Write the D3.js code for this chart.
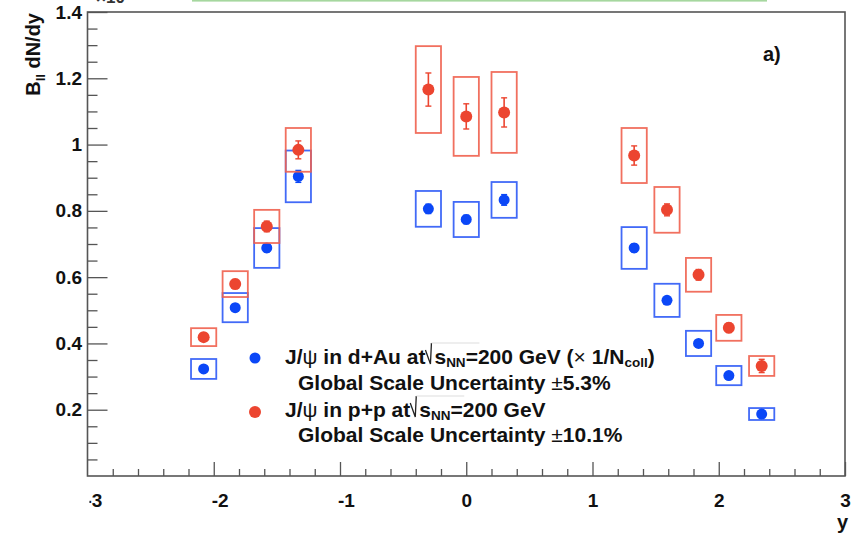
<!DOCTYPE html>
<html>
<head>
<meta charset="utf-8">
<script src="https://cdn.jsdelivr.net/npm/d3@7"></script>
<style>
  html, body { margin: 0; padding: 0; background: #fff; }
  svg { display: block; font-family: "Liberation Sans", Arial, Helvetica, sans-serif; font-weight: bold; }
</style>
</head>
<body>
<svg id="chart" width="856" height="536"></svg>
<script>
// ---------------- data ----------------
const rapidity   = [-2.08, -1.83, -1.58, -1.33, -0.30, 0.00, 0.30, 1.33, 1.59, 1.84, 2.08, 2.34];
const ppValues   = [0.419, 0.579, 0.753, 0.984, 1.166, 1.085, 1.097, 0.967, 0.803, 0.607, 0.447, 0.332];
const ppStat     = [0.012, 0.014, 0.016, 0.027, 0.050, 0.038, 0.044, 0.029, 0.018, 0.016, 0.014, 0.020];
const ppSys      = [0.027, 0.039, 0.050, 0.066, 0.131, 0.119, 0.122, 0.083, 0.069, 0.051, 0.039, 0.030];
const dAuValues  = [0.323, 0.508, 0.688, 0.904, 0.806, 0.774, 0.833, 0.688, 0.530, 0.400, 0.303, 0.187];
const dAuStat    = [0.008, 0.010, 0.012, 0.018, 0.014, 0.013, 0.016, 0.012, 0.010, 0.008, 0.008, 0.010];
const dAuSys     = [0.030, 0.044, 0.060, 0.078, 0.054, 0.053, 0.054, 0.063, 0.050, 0.038, 0.029, 0.018];
const binHalfWidth = 0.1;
const xTickValues = [-3, -2, -1, 0, 1, 2, 3];
const xTickLabels = ["-3", "-2", "-1", "0", "1", "2", "3"];
const yTickValues = [0.2, 0.4, 0.6, 0.8, 1.0, 1.2, 1.4];
const yTickLabels = ["0.2", "0.4", "0.6", "0.8", "1", "1.2", "1.4"];

// ---------------- setup ----------------
const svg = d3.select("#chart");
const x = d3.scaleLinear().domain([-3, 3]).range([87.5, 845]);
const y = d3.scaleLinear().domain([0, 1.4]).range([476, 12]);
const RED = "#ec4530", BLUE = "#0b47f7";
const RED_BOX = "#f0604e", BLUE_BOX = "#2d5af6";
const AX = "#555";

// green line at top (cropped figure remnant)
svg.append("rect").attr("x", 192).attr("y", 0).attr("width", 575).attr("height", 1.6).attr("fill", "#a6d79f");

// cropped exponent remnant
svg.append("text").attr("x", 96).attr("y", 3).attr("font-size", 17).attr("fill", "#333").text("\u00d710");

// ---------------- axes ----------------
const defs = svg.append("defs");
defs.append("clipPath").attr("id", "xlabClip").append("rect").attr("x", 89.5).attr("y", 0).attr("width", 767).attr("height", 536);

// x minor ticks
const xMinor = d3.range(-3, 3.0001, 0.2).map(v => +v.toFixed(2)).filter(v => Math.abs(v - Math.round(v)) > 1e-6);
const gxMinor = svg.append("g").attr("transform", "translate(0,476)")
  .call(d3.axisBottom(x).tickValues(xMinor).tickSizeInner(-7).tickSizeOuter(0).tickFormat(""));
gxMinor.select(".domain").remove();
gxMinor.selectAll("line").attr("stroke", AX).attr("stroke-width", 1.3);

// x major ticks (outer group clips the cropped "-3" label like the reference)
const gxOuter = svg.append("g").attr("clip-path", "url(#xlabClip)");
const gx = gxOuter.append("g").attr("transform", "translate(0,476)")
  .call(d3.axisBottom(x).tickValues(xTickValues).tickSizeInner(-14).tickSizeOuter(0).tickPadding(17.5)
    .tickFormat((d, i) => xTickLabels[i]));
gx.select(".domain").remove();
gx.selectAll("line").attr("stroke", AX).attr("stroke-width", 1.3);
gx.selectAll("text").attr("font-size", 19).attr("font-weight", "bold").attr("fill", "#111")
  .attr("font-family", "Liberation Sans, Arial, sans-serif")
  .attr("x", d => d < 0 ? 6 : 0);

// y minor ticks
const yMinor = d3.range(0.05, 1.4, 0.05).map(v => +v.toFixed(2)).filter(v => Math.abs(v * 5 - Math.round(v * 5)) > 1e-6);
const gyMinor = svg.append("g").attr("transform", "translate(87.5,0)")
  .call(d3.axisLeft(y).tickValues(yMinor).tickSizeInner(-10).tickSizeOuter(0).tickFormat(""));
gyMinor.select(".domain").remove();
gyMinor.selectAll("line").attr("stroke", AX).attr("stroke-width", 1.3);

// y major ticks
const gy = svg.append("g").attr("transform", "translate(87.5,0)")
  .call(d3.axisLeft(y).tickValues(yTickValues).tickSizeInner(-20).tickSizeOuter(0).tickPadding(5.5)
    .tickFormat((d, i) => yTickLabels[i]));
gy.select(".domain").remove();
gy.selectAll("line").attr("stroke", AX).attr("stroke-width", 1.3);
gy.selectAll("text").attr("font-size", 19).attr("font-weight", "bold").attr("fill", "#111")
  .attr("font-family", "Liberation Sans, Arial, sans-serif");

// frame
svg.append("rect").attr("x", x(-3)).attr("y", y(1.4))
  .attr("width", x(3) - x(-3)).attr("height", y(0) - y(1.4))
  .attr("fill", "none").attr("stroke", AX).attr("stroke-width", 1.6);

// axis titles
svg.append("text").attr("x", 848).attr("y", 529).attr("text-anchor", "end")
  .attr("font-size", 20).attr("fill", "#111").text("y");

const yt = svg.append("text").attr("transform", "translate(40,13) rotate(-90)")
  .attr("text-anchor", "end").attr("font-size", 20).attr("fill", "#111");
yt.append("tspan").text("B");
yt.append("tspan").attr("font-size", 13).attr("dy", 5).text("ll");
yt.append("tspan").attr("dy", -5).text(" dN/dy");

// panel label
svg.append("text").attr("x", 763).attr("y", 61).attr("font-size", 20).attr("fill", "#111").text("a)");

// ---------------- data marks ----------------
function drawBoxes(vals, sys, boxColor) {
  const g = svg.append("g");
  const idx = d3.range(vals.length);
  g.selectAll("rect.sys").data(idx).join("rect").attr("class", "sys")
    .attr("x", i => x(rapidity[i] - binHalfWidth))
    .attr("y", i => y(vals[i] + sys[i]))
    .attr("width", i => x(rapidity[i] + binHalfWidth) - x(rapidity[i] - binHalfWidth))
    .attr("height", i => y(vals[i] - sys[i]) - y(vals[i] + sys[i]))
    .attr("fill", "none").attr("stroke", boxColor).attr("stroke-width", 1.8).attr("stroke-opacity", 0.9);
  return g;
}
function drawPoints(g, vals, stat, color, r) {
  const idx = d3.range(vals.length);
  g.selectAll("line.err").data(idx).join("line").attr("class", "err")
    .attr("x1", i => x(rapidity[i])).attr("x2", i => x(rapidity[i]))
    .attr("y1", i => y(vals[i] + stat[i])).attr("y2", i => y(vals[i] - stat[i]))
    .attr("stroke", color).attr("stroke-width", 1.6);
  g.selectAll("line.capt").data(idx).join("line").attr("class", "capt")
    .attr("x1", i => x(rapidity[i]) - 3).attr("x2", i => x(rapidity[i]) + 3)
    .attr("y1", i => y(vals[i] + stat[i])).attr("y2", i => y(vals[i] + stat[i]))
    .attr("stroke", color).attr("stroke-width", 1.4);
  g.selectAll("line.capb").data(idx).join("line").attr("class", "capb")
    .attr("x1", i => x(rapidity[i]) - 3).attr("x2", i => x(rapidity[i]) + 3)
    .attr("y1", i => y(vals[i] - stat[i])).attr("y2", i => y(vals[i] - stat[i]))
    .attr("stroke", color).attr("stroke-width", 1.4);
  g.selectAll("circle").data(idx).join("circle")
    .attr("cx", i => x(rapidity[i])).attr("cy", i => y(vals[i])).attr("r", r)
    .attr("fill", color);
}
const gBlue = drawBoxes(dAuValues, dAuSys, BLUE_BOX);
const gRed = drawBoxes(ppValues, ppSys, RED_BOX);
drawPoints(gBlue, dAuValues, dAuStat, BLUE, 5.5);
drawPoints(gRed, ppValues, ppStat, RED, 6);

// ---------------- legend ----------------
const FS = 21;
function richLine(x0, yb, segs) {
  let cx = x0;
  segs.forEach(s => {
    if (s.sqrt) {
      svg.append("path")
        .attr("d", `M${cx},${yb - 14} L${cx + 5},${yb} L${cx + 6},${yb - 21}`)
        .attr("fill", "none").attr("stroke", "#222").attr("stroke-width", 1.3);
      svg.append("line").attr("x1", cx + 6).attr("x2", cx + 6 + s.over).attr("y1", yb - 21).attr("y2", yb - 21)
        .attr("stroke", "#ddd").attr("stroke-width", 1);
      cx += 9;
      return;
    }
    const t = svg.append("text").attr("x", cx).attr("y", s.sub ? yb + 3 : yb)
      .attr("font-size", s.sub ? 13.5 : FS).attr("fill", "#111")
      .style("white-space", "pre").text(s.t);
    if (s.plain) t.attr("font-weight", "normal");
    cx += t.node().getComputedTextLength();
  });
}
svg.append("circle").attr("cx", 255).attr("cy", 358).attr("r", 5.5).attr("fill", BLUE);
richLine(285, 364, [
  {t: "J/"}, {t: "\u03c8", plain: true}, {t: " in d+Au at"}, {sqrt: true, over: 48},
  {t: "s"}, {t: "NN", sub: true}, {t: "=200 GeV ("}, {t: "\u00d7", plain: true}, {t: " 1/N"}, {t: "coll", sub: true}, {t: ")"}
]);
richLine(298, 390, [{t: "Global Scale Uncertainty "}, {t: "\u00b1", plain: true}, {t: "5.3%"}]);
svg.append("circle").attr("cx", 255).attr("cy", 412).attr("r", 6).attr("fill", RED);
richLine(285, 417, [
  {t: "J/"}, {t: "\u03c8", plain: true}, {t: " in p+p at"}, {sqrt: true, over: 48},
  {t: "s"}, {t: "NN", sub: true}, {t: "=200 GeV"}
]);
richLine(298, 442, [{t: "Global Scale Uncertainty "}, {t: "\u00b1", plain: true}, {t: "10.1%"}]);
</script>
</body>
</html>
